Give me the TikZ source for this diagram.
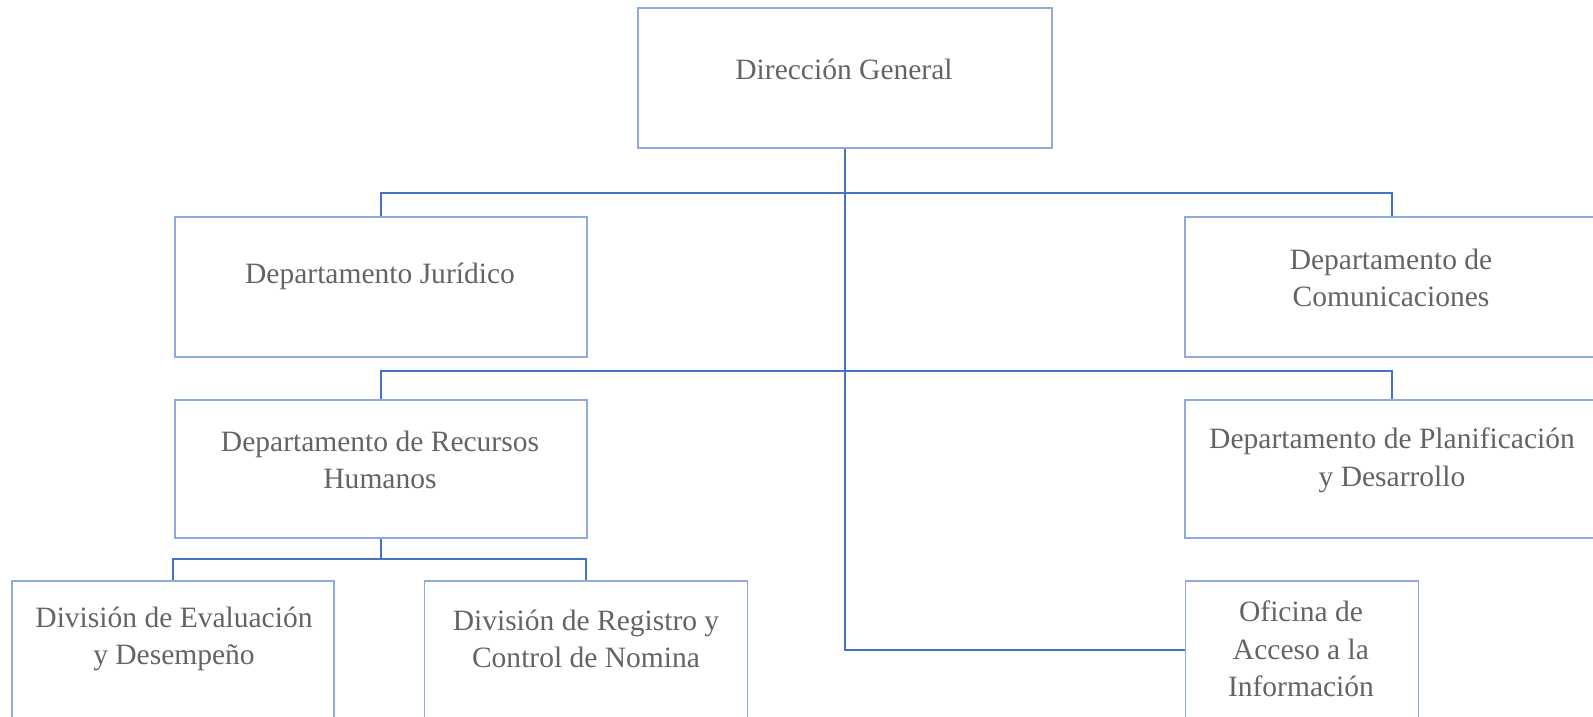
\documentclass[tikz,border=0pt]{standalone}
\usepackage{fontspec}
\setmainfont{Liberation Serif}
\definecolor{bordeazul}{RGB}{143,170,220}
\definecolor{lineaazul}{RGB}{68,114,196}
\definecolor{textogris}{RGB}{100,100,100}

\begin{document}
\begin{tikzpicture}[x=0.02cm, y=-0.02cm,
	caja/.style={draw=bordeazul, line width=0.8pt, rectangle, minimum height=2.8cm},
	texto/.style={text=textogris, align=center, font=\fontsize{16.8}{21.4}\selectfont},
	rama/.style={draw=lineaazul, line width=1.1pt},
	tronco/.style={draw=lineaazul, line width=1.6pt}]
	\useasboundingbox (0,0) rectangle (1593,717);

	% cajas
	\node[caja, minimum width=8.28cm] (dg) at (845,78) {};
	\node[caja, minimum width=8.24cm] (jur) at (381,287) {};
	\node[caja, minimum width=8.28cm] (com) at (1392,287) {};
	\node[caja, minimum width=8.24cm, minimum height=2.76cm] (rrhh) at (381,469) {};
	\node[caja, minimum width=8.28cm, minimum height=2.76cm] (plan) at (1392,469) {};
	\node[caja, minimum width=6.44cm, minimum height=2.76cm] (ev) at (173,650) {};
	\node[caja, minimum width=6.46cm, minimum height=2.76cm] (reg) at (586,650) {};
	\node[caja, minimum width=4.66cm, minimum height=2.76cm] (ofi) at (1302,650) {};

	% textos
	\node[texto] (dg-t) at (844,69) {Dirección General};
	\node[texto] (jur-t) at (380,276) {Departamento Jurídico};
	\node[texto] (com-t) at (1391,278) {Departamento de\\Comunicaciones};
	\node[texto] (rrhh-t) at (380,460) {Departamento de Recursos\\Humanos};
	\node[texto] (plan-t) at (1392,460) {Departamento de Planificación\\y Desarrollo};
	\node[texto] (ev-t) at (174,639) {División de Evaluación\\y Desempeño};
	\node[texto] (reg-t) at (586,639) {División de Registro y\\Control de Nomina};
	\node[texto] (ofi-t) at (1301,649) {Oficina de\\Acceso a la\\Información};

	% conectores
	\coordinate (b1) at (845,193);
	\coordinate (b2) at (845,371);
	\coordinate (b3) at (381,559);
	\draw[rama] (jur.north) |- (b1) -| (com.north);
	\draw[rama] (rrhh.north) |- (b2) -| (plan.north);
	\draw[rama] (rrhh.south) -- (b3);
	\draw[rama] (ev.north) |- (b3) -| (reg.north);
	\draw[tronco] (dg.south) |- (ofi.west);
\end{tikzpicture}
\end{document}
